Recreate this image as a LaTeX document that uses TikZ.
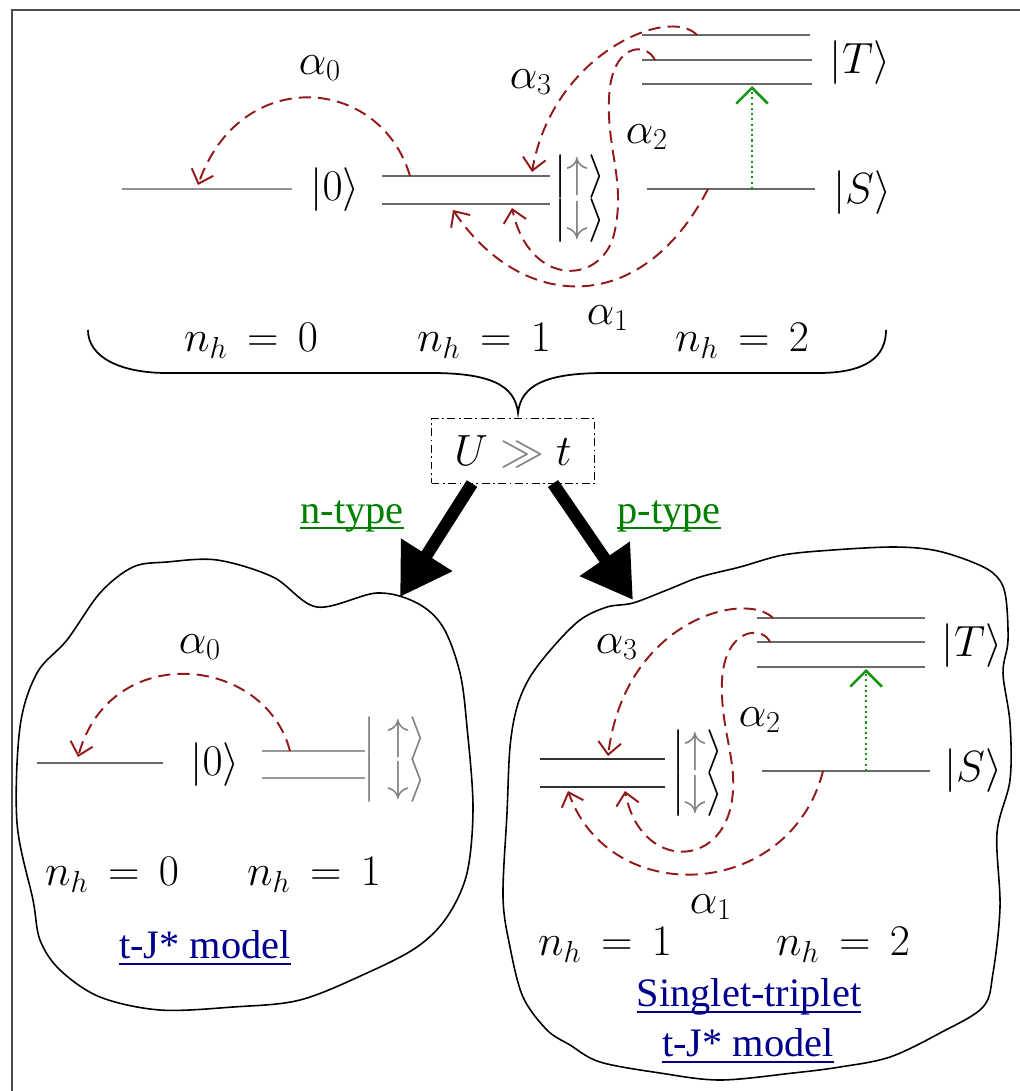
\documentclass[tikz,border=0pt]{standalone}
\usepackage{fontspec}
\newfontfamily\linkfont{Liberation Serif}
\usetikzlibrary{arrows.meta}
\definecolor{alphared}{RGB}{145,25,25}
\definecolor{lvlgray}{RGB}{105,105,105}
\definecolor{dotgreen}{RGB}{20,150,20}
\definecolor{linkgreen}{RGB}{0,128,0}
\definecolor{linkblue}{RGB}{0,0,140}
\newcommand{\kup}{|{\color{gray}\uparrow}\rangle}
\newcommand{\kdn}{|{\color{gray}\downarrow}\rangle}
\begin{document}
\begin{tikzpicture}[x=0.02cm,y=-0.02cm,
  every node/.style={inner sep=0pt,outer sep=0pt},
  mtext/.style={font=\fontsize{26}{31}\selectfont},
  linktext/.style={font=\linkfont\fontsize{23}{27}\selectfont},
  lvl/.style={draw=lvlgray,line width=1.3pt},
  hop/.style={draw=alphared,line width=1.1pt,dash pattern=on 7pt off 4pt,
    -{Straight Barb[length=7pt,width=13pt,line width=1.1pt]}},
  excite/.style={draw=dotgreen,line width=1.2pt,dash pattern=on 1.2pt off 1.8pt,
    -{Straight Barb[length=9pt,width=18pt,line width=1.5pt]}},
  bigarrow/.style={line width=7pt,-{Triangle[length=1cm,width=1.15cm]}},
  blob/.style={draw,line width=0.9pt},
  uline/.style={line width=1.3pt}
]
\useasboundingbox (0,0) rectangle (1020,1091);
% frame
\draw[gray!60!black,line width=1pt] (12,1100) -- (12,10) -- (1030,10);

% ================= TOP =================
\draw[lvl,draw=gray!85] (122,189) -- (292,189);
\draw[lvl] (382,176) -- (550,176);
\draw[lvl] (382,204) -- (550,204);
\draw[lvl] (642,35) -- (810,35);
\draw[lvl] (642,60) -- (812,60);
\draw[lvl] (642,84) -- (812,84);
\draw[lvl] (647,189) -- (815,189);

\node[mtext] (t0) at (335,190) {$|0\rangle$};
\node[mtext] (tup) at (580,177) {$\kup$};
\node[mtext] (tdn) at (580,221) {$\kdn$};
\node[mtext] (tT) at (860,63) {$|T\rangle$};
\node[mtext] (tS) at (862,193) {$|S\rangle$};

\coordinate (a0s) at (410,176);
\coordinate (a0e) at (198,185);
\coordinate (a3s) at (697,35);
\coordinate (a3e) at (532,172);
\coordinate (a2s) at (655,60);
\coordinate (a2e) at (512,208);
\coordinate (a1s) at (708,189);
\coordinate (a1e) at (453,210);
\coordinate (gs) at (752,189);
\coordinate (ge) at (752,86);

\draw[hop] (a0s) .. controls (380,75) and (240,65) .. (a0e);
\draw[hop] (a3s) .. controls (668,5) and (552,55) .. (a3e);
\draw[hop] (a2s) .. controls (645,40) and (610,45) .. (609,100)
  .. controls (607,150) and (625,180) .. (615,230)
  .. controls (605,285) and (530,290) .. (a2e);
\draw[hop] (a1s) .. controls (640,320) and (520,310) .. (a1e);
\draw[excite] (gs) -- (ge);

\node[mtext] (la0) at (320,68) {$\alpha_0$};
\node[mtext] (la3) at (531,82) {$\alpha_3$};
\node[mtext] (la2) at (647,137) {$\alpha_2$};
\node[mtext] (la1) at (608,318) {$\alpha_1$};

\node[mtext] (n0) at (251,341) {$n_h\,=\,0$};
\node[mtext] (n1) at (484,341) {$n_h\,=\,1$};
\node[mtext] (n2) at (742,341) {$n_h\,=\,2$};

% brace
\coordinate (btip) at (518,413);
\draw[line width=1pt] (88,330) .. controls (88,357) and (120,373) .. (167,373) -- (431,373)
  .. controls (490,373) and (515,385) .. (btip)
  .. controls (521,385) and (546,373) .. (605,373) -- (818,373)
  .. controls (866,373) and (886,357) .. (886,330);

% U >> t box
\node[mtext,draw,line width=0.9pt,dash pattern=on 4.5pt off 2pt on 1pt off 2pt,
  minimum width=3.26cm,minimum height=1.3cm] (ubox) at (513,451) {$U \mathrel{\color{gray}\gg} t$};

\coordinate (ltip) at (400,597);
\coordinate (rtip) at (633,600);
\draw[bigarrow] ([xshift=-0.82cm]ubox.south) -- (ltip);
\draw[bigarrow] ([xshift=0.8cm]ubox.south) -- (rtip);

\node[linktext,text=linkgreen,anchor=base] (ntype) at (352,523) {n-type};
\draw[linkgreen,uline] ([yshift=-3pt]ntype.base west) -- ([yshift=-3pt]ntype.base east);
\node[linktext,text=linkgreen,anchor=base] (ptype) at (669,523) {p-type};
\draw[linkgreen,uline] ([yshift=-3pt]ptype.base west) -- ([yshift=-3pt]ptype.base east);

% ================= LEFT BLOB =================
\draw[blob] plot[smooth cycle,tension=0.55] coordinates {
 (133,567) (167,562) (217,560) (273,577) (317,607) (377,593) (417,603) (443,627)
 (460,673) (467,727) (473,807) (467,873) (447,917) (417,947) (367,973) (300,1000)
 (233,1007) (160,1010) (100,997) (60,970) (40,940) (33,900) (17,823) (20,727)
 (37,673) (67,640) (100,593)};

\draw[lvl] (37,763) -- (163,763);
\draw[lvl,draw=gray!80] (262,751) -- (365,751);
\draw[lvl,draw=gray!80] (262,778) -- (365,778);
\node[mtext] (l0) at (215,765) {$|0\rangle$};
\node[mtext,text=gray] (lup) at (395,739) {$|\uparrow\rangle$};
\node[mtext,text=gray] (ldn) at (395,781) {$|\downarrow\rangle$};
\coordinate (b0s) at (290,751);
\coordinate (b0e) at (78,757);
\draw[hop] (b0s) .. controls (265,655) and (110,640) .. (b0e);
\node[mtext] (lb0) at (200,647) {$\alpha_0$};
\node[mtext] (ln0) at (112,875) {$n_h\,=\,0$};
\node[mtext] (ln1) at (314,875) {$n_h\,=\,1$};
\node[linktext,text=linkblue,anchor=base] (ltj) at (205,958) {t-J* model};
\draw[linkblue,uline] ([yshift=-3.5pt]ltj.base west) -- ([yshift=-3.5pt]ltj.base east);

% ================= RIGHT BLOB =================
\draw[blob] plot[smooth cycle,tension=0.55] coordinates {
 (633,603) (667,590) (700,577) (740,567) (783,555) (833,550) (893,547) (933,550)
 (967,560) (993,573) (1005,593) (1008,640) (1003,673) (1010,723) (1010,780)
 (997,833) (1000,907) (993,973) (983,1007) (940,1033) (890,1057) (840,1067)
 (793,1073) (720,1080) (660,1073) (600,1062) (570,1045) (547,1030) (523,997)
 (510,947) (503,897) (507,813) (510,747) (517,707) (530,677) (553,647) (580,620)
 (607,607)};

\draw[lvl,draw=black!80] (540,759) -- (665,759);
\draw[lvl,draw=black!80] (540,787) -- (665,787);
\draw[lvl] (757,618) -- (925,618);
\draw[lvl] (757,642) -- (925,642);
\draw[lvl] (757,667) -- (925,667);
\draw[lvl] (762,771) -- (930,771);
\node[mtext] (rup) at (698,752) {$\kup$};
\node[mtext] (rdn) at (698,795) {$\kdn$};
\node[mtext] (rT) at (972,646) {$|T\rangle$};
\node[mtext] (rS) at (973,771) {$|S\rangle$};

\coordinate (c3s) at (773,618);
\coordinate (c3e) at (608,756);
\coordinate (c2s) at (770,642);
\coordinate (c2e) at (625,791);
\coordinate (c1s) at (823,771);
\coordinate (c1e) at (568,791);
\coordinate (hs) at (866,771);
\coordinate (he) at (866,669);
\draw[hop] (c3s) .. controls (745,590) and (625,620) .. (c3e);
\draw[hop] (c2s) .. controls (762,625) and (725,628) .. (722,680)
  .. controls (720,730) and (738,760) .. (732,800)
  .. controls (722,870) and (640,870) .. (c2e);
\draw[hop] (c1s) .. controls (790,900) and (610,910) .. (c1e);
\draw[excite] (hs) -- (he);

\node[mtext] (rb3) at (617,647) {$\alpha_3$};
\node[mtext] (rb2) at (760,720) {$\alpha_2$};
\node[mtext] (rb1) at (711,907) {$\alpha_1$};
\node[mtext] (rn1) at (605,945) {$n_h\,=\,1$};
\node[mtext] (rn2) at (843,945) {$n_h\,=\,2$};

\node[linktext,text=linkblue,anchor=base] (rst) at (749,1006) {Singlet-triplet};
\draw[linkblue,uline] ([yshift=-3.5pt]rst.base west) -- ([yshift=-3.5pt]rst.base east);
\node[linktext,text=linkblue,anchor=base] (rtj) at (748,1056) {t-J* model};
\draw[linkblue,uline] ([yshift=-3.5pt]rtj.base west) -- ([yshift=-3.5pt]rtj.base east);
\end{tikzpicture}
\end{document}
